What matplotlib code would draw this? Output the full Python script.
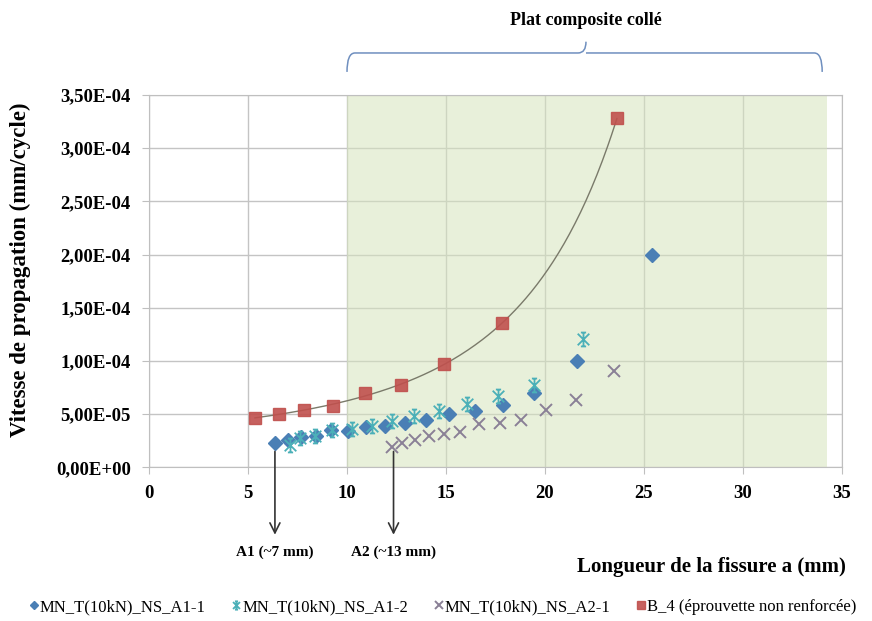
import numpy as np
import matplotlib
matplotlib.use('Agg')
import matplotlib.pyplot as plt
from matplotlib.path import Path
from matplotlib.patches import PathPatch
from matplotlib.ticker import FuncFormatter

plt.rcParams['font.family'] = ['Liberation Serif', 'DejaVu Serif']

# Donnees (a en mm, vitesse en mm/cycle)
a_a11 = [6.36, 7.0, 7.68, 8.42, 9.19, 10.07, 10.98, 11.92, 12.93, 14.0, 15.16, 16.48, 17.88, 19.46, 21.62, 25.39]
v_a11 = [2.3e-5, 2.57e-5, 2.88e-5, 2.94e-5, 3.5e-5, 3.44e-5, 3.79e-5, 3.9e-5, 4.12e-5, 4.4e-5, 4.97e-5,
         5.26e-5, 5.82e-5, 7.01e-5, 9.99e-5, 1.995e-4]

a_a12 = [7.12, 7.65, 8.4, 9.25, 10.26, 11.28, 12.27, 13.4, 14.66, 16.05, 17.64, 19.44, 21.94]
v_a12 = [2.05e-5, 2.8e-5, 2.95e-5, 3.55e-5, 3.6e-5, 3.88e-5, 4.32e-5, 4.85e-5, 5.25e-5, 5.95e-5, 6.73e-5,
         7.77e-5, 1.203e-4]

a_a21 = [12.28, 12.8, 13.43, 14.15, 14.9, 15.71, 16.67, 17.71, 18.79, 20.07, 21.58, 23.47]
v_a21 = [1.9e-5, 2.28e-5, 2.6e-5, 2.91e-5, 3.13e-5, 3.35e-5, 4.1e-5, 4.19e-5, 4.45e-5, 5.39e-5, 6.33e-5, 9.05e-5]

a_b4 = [5.35, 6.57, 7.85, 9.29, 10.89, 12.72, 14.9, 17.85, 23.63]
v_b4 = [4.66e-5, 4.98e-5, 5.39e-5, 5.76e-5, 6.95e-5, 7.7e-5, 9.72e-5, 1.353e-4, 3.28e-4]

labels = ['MN_T(10kN)_NS_A1-1', 'MN_T(10kN)_NS_A1-2', 'MN_T(10kN)_NS_A2-1', 'B_4 (éprouvette non renforcée)']

# marqueur etoile facon Excel
star = Path([(-1, -1), (1, 1), (-1, 1), (1, -1), (0, -1.2), (0, 1.2), (-0.45, 1.2), (0.45, 1.2), (-0.45, -1.2), (0.45, -1.2)],
            [Path.MOVETO, Path.LINETO] * 5)

fig = plt.figure(figsize=(8.72, 6.21), dpi=100)
ax = fig.add_axes([149/872, 1 - 467.3/621, 693/872, (467.3 - 94.9)/621])

ax.axvspan(10, 34.25, color='#d6e4bd', alpha=0.55, zorder=1, lw=0)
ax.grid(True, color='#c4c4c4', lw=1, zorder=0.5)
ax.set_axisbelow(True)

ax.plot(a_a11, v_a11, 'D', color='#4a7fb5', ms=7, mec='#4a7fb5', zorder=3, label=labels[0])
ax.plot(a_a12, v_a12, ls='none', marker=star, ms=10, mec='#4bb0b8', mfc='none', mew=1.3, zorder=3, label=labels[1])
ax.plot(a_a21, v_a21, 'x', color='#8a8096', ms=9, mew=1.4, zorder=3, label=labels[2])
ax.plot(a_b4, v_b4, 's', color='#c0504d', ms=9, mec='#c0504d', alpha=0.9, zorder=4, label=labels[3])

# courbe de tendance (ajustement polynomial sur log)
coef = np.polyfit(a_b4, np.log(v_b4), 3)
xs = np.linspace(min(a_b4), max(a_b4), 200)
ax.plot(xs, np.exp(np.polyval(coef, xs)), color='#7a7a6a', lw=1, zorder=3.5)

ax.set_xlim(0, 35)
ax.set_ylim(0, 3.5e-4)
ax.set_xticks(np.arange(0, 36, 5))
ax.set_yticks(np.arange(0, 3.51e-4, 0.5e-4))
ax.yaxis.set_major_formatter(FuncFormatter(lambda v, p: ('%.2E' % v).replace('.', ',')))
for s in ax.spines.values():
    s.set_color('#bfbfbf')
ax.tick_params(colors='#bfbfbf', length=5, labelcolor='black', labelsize=13.5)
ax.tick_params(axis='x', pad=8)
ax.tick_params(axis='y', pad=8)
for t in ax.get_xticklabels() + ax.get_yticklabels():
    t.set_fontweight('bold')

# fleches A1 / A2
for xa, txt in [(6.36, 'A1 (~7 mm)'), (12.35, 'A2 (~13 mm)')]:
    ax.annotate('', xy=(xa, -6.6e-5), xytext=(xa, 1.75e-5), annotation_clip=False,
                arrowprops=dict(arrowstyle='->', color='#333333', lw=1.2, mutation_scale=18))
    ax.text(xa, -8.0e-5, txt, ha='center', va='center', fontsize=11, fontweight='bold', clip_on=False)

# accolade "Plat composite colle"
yb, ye, yp, xm = 3.894e-4, 3.716e-4, 4.0e-4, 22.07
brace = Path([(10, ye), (10, yb), (10.4, yb), (xm - 0.4, yb), (xm, yb), (xm, yp),
              (xm, yb), (xm + 0.4, yb), (34 - 0.4, yb), (34, yb), (34, ye)],
             [Path.MOVETO, Path.CURVE3, Path.CURVE3, Path.LINETO, Path.CURVE3, Path.CURVE3,
              Path.MOVETO, Path.CURVE3, Path.LINETO, Path.CURVE3, Path.CURVE3])
ax.add_patch(PathPatch(brace, fc='none', ec='#6f8fbf', lw=1.1, clip_on=False))
ax.text(xm, 4.2e-4, 'Plat composite collé', ha='center', va='center', fontsize=13, fontweight='bold', clip_on=False)

fig.text(20/872, 1 - 270/621, 'Vitesse de propagation (mm/cycle)', rotation=90, ha='center', va='center',
         fontsize=16.5, fontweight='bold')
fig.text(711/872, 1 - 567/621, 'Longueur de la fissure a (mm)', ha='center', va='center',
         fontsize=15, fontweight='bold')

fig.legend(loc='center', bbox_to_anchor=(443/872, 1 - 607/621), ncol=4, frameon=False, fontsize=12,
           markerscale=0.6, handlelength=0.5, handletextpad=0.1, columnspacing=1.6)

fig.savefig('out.png', dpi=100)
